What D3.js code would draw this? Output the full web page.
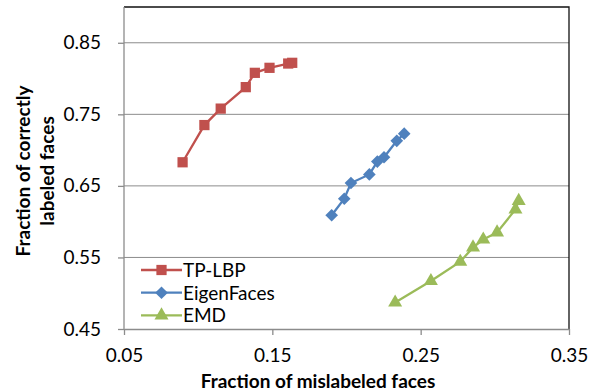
<!DOCTYPE html>
<html>
<head>
<meta charset="utf-8">
<script src="https://cdn.jsdelivr.net/npm/d3@7"></script>
<style>
  body { margin: 0; background: #fff; }
  svg text { font-family: Lato, "Open Sans", "Liberation Sans", sans-serif; }
</style>
</head>
<body>
<div id="chart"></div>
<script>
const seriesNames = ['TP-LBP', 'EigenFaces', 'EMD'];
const seriesColors = ['#C0504D', '#4F81BD', '#9BBB59'];

const tplbpX = [0.0895, 0.1042, 0.1152, 0.1321, 0.1382, 0.1481, 0.1607, 0.1634];
const tplbpY = [0.683, 0.735, 0.758, 0.788, 0.808, 0.815, 0.821, 0.822];

const eigenX = [0.190, 0.1985, 0.203, 0.2154, 0.2208, 0.2253, 0.2339, 0.2389];
const eigenY = [0.609, 0.632, 0.654, 0.666, 0.684, 0.690, 0.713, 0.723];

const emdX = [0.2328, 0.2569, 0.2767, 0.2853, 0.2922, 0.3015, 0.3139, 0.3161];
const emdY = [0.487, 0.517, 0.544, 0.564, 0.575, 0.585, 0.617, 0.629];

const xTicks = [0.05, 0.15, 0.25, 0.35];
const yTicks = [0.45, 0.55, 0.65, 0.75, 0.85];

const W = 595, H = 392;
const margin = { left: 124, right: 569, top: 7, bottom: 329 };

// diamond drawn as a square turned 45 degrees
const diamond = { draw(ctx, size) { const r = Math.sqrt(size / 2); ctx.moveTo(0, -r); ctx.lineTo(r, 0); ctx.lineTo(0, r); ctx.lineTo(-r, 0); ctx.closePath(); } };

const series = [
  { name: seriesNames[0], color: seriesColors[0], shape: d3.symbolSquare, size: 105, xs: tplbpX, ys: tplbpY },
  { name: seriesNames[1], color: seriesColors[1], shape: diamond, size: 80, xs: eigenX, ys: eigenY },
  { name: seriesNames[2], color: seriesColors[2], shape: d3.symbolTriangle, size: 85, xs: emdX, ys: emdY }
];

const svg = d3.select('#chart').append('svg').attr('width', W).attr('height', H);

const x = d3.scaleLinear().domain([0.05, 0.35]).range([margin.left, margin.right]);
const y = d3.scaleLinear().domain([0.45, 0.90]).range([margin.bottom, margin.top]);

// gridlines
svg.append('g')
  .selectAll('line')
  .data(yTicks.slice(1))
  .join('line')
  .attr('x1', margin.left).attr('x2', margin.right)
  .attr('y1', d => y(d)).attr('y2', d => y(d))
  .attr('stroke', '#8c8c8c').attr('stroke-width', 1);

// plot border, top and right
svg.append('path')
  .attr('d', `M${margin.left},${margin.top}H${margin.right}V${margin.bottom}`)
  .attr('fill', 'none').attr('stroke', '#111').attr('stroke-width', 1.3);

// axes
const xAxis = svg.append('g')
  .attr('transform', `translate(0,${margin.bottom})`)
  .call(d3.axisBottom(x).tickValues(xTicks).tickFormat(d3.format('.2f')).tickSize(6).tickSizeOuter(0));
const yAxis = svg.append('g')
  .attr('transform', `translate(${margin.left},0)`)
  .call(d3.axisLeft(y).tickValues(yTicks).tickFormat(d3.format('.2f')).tickSize(6).tickSizeOuter(0));

[xAxis, yAxis].forEach(a => {
  a.select('.domain').attr('stroke', '#8c8c8c').attr('stroke-width', 1.3);
  a.selectAll('.tick line').attr('stroke', '#8c8c8c').attr('stroke-width', 1.3);
  a.selectAll('.tick text').attr('fill', '#000').style('font-size', '19px');
});
xAxis.selectAll('.tick text').attr('y', 33).attr('dy', 0);
yAxis.selectAll('.tick text').attr('x', -23);
yAxis.select('.domain').attr('d', `M0,${margin.top}V${margin.bottom}`);

// series
const line = d3.line().x(d => x(d[0])).y(d => y(d[1]));
series.forEach(s => {
  const pts = s.xs.map((v, i) => [v, s.ys[i]]);
  svg.append('path')
    .datum(pts)
    .attr('d', line)
    .attr('fill', 'none')
    .attr('stroke', s.color)
    .attr('stroke-width', 2.3);
  svg.append('g')
    .selectAll('path')
    .data(pts)
    .join('path')
    .attr('transform', d => `translate(${x(d[0])},${y(d[1])})`)
    .attr('d', d3.symbol().type(s.shape).size(s.size))
    .attr('fill', s.color);
});

// legend
const legend = svg.append('g').attr('transform', 'translate(141,270)');
legend.append('rect')
  .attr('x', -4).attr('y', -11).attr('width', 150).attr('height', 57)
  .attr('fill', '#fff');
series.forEach((s, i) => {
  const g = legend.append('g').attr('transform', `translate(0,${i * 22.7})`);
  g.append('line').attr('x1', 0).attr('x2', 41).attr('stroke', s.color).attr('stroke-width', 2.3);
  g.append('path').attr('transform', 'translate(20.5,0)')
    .attr('d', d3.symbol().type(s.shape).size(s.size)).attr('fill', s.color);
  g.append('text').attr('x', 42).attr('dy', '0.36em')
    .style('font-size', '19px').text(s.name);
});

// axis titles
svg.append('text')
  .attr('x', 318).attr('y', 388)
  .attr('text-anchor', 'middle')
  .style('font-size', '19px').style('font-weight', 'bold')
  .text('Fraction of mislabeled faces');

const yt = svg.append('text')
  .attr('transform', 'translate(0,171) rotate(-90)')
  .attr('text-anchor', 'middle')
  .style('font-size', '19px').style('font-weight', 'bold');
yt.append('tspan').attr('x', 0).attr('y', 30).text('Fraction of correctly');
yt.append('tspan').attr('x', 0).attr('y', 54).text('labeled faces');
</script>
</body>
</html>
